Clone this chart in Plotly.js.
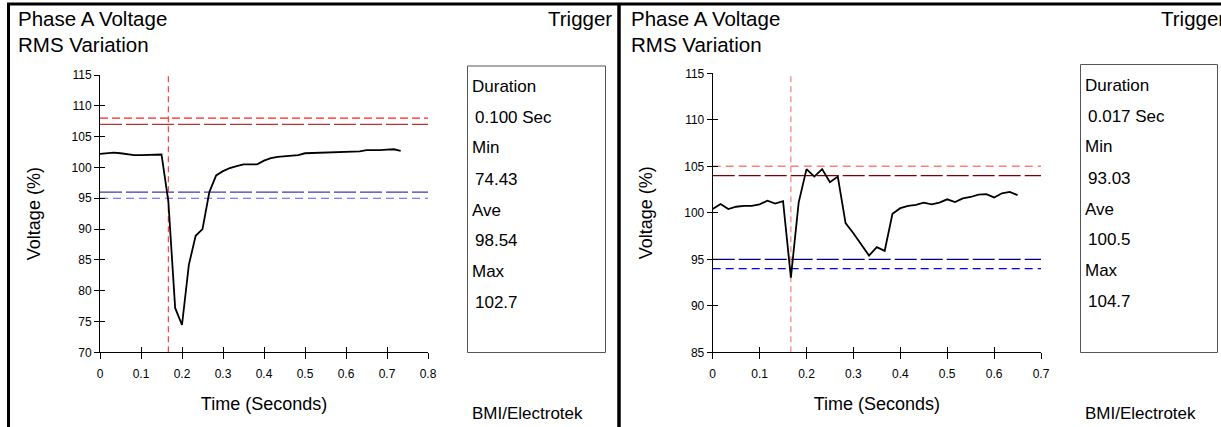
<!DOCTYPE html>
<html>
<head>
<meta charset="utf-8">
<script src="https://cdn.plot.ly/plotly-3.0.1.min.js"></script>
<style>html,body{margin:0;padding:0;background:#fff;}#chart{width:1221px;height:427px;}</style>
</head>
<body>
<div id="chart"></div>
<script>
// ---------- data ----------
var titleLine1 = 'Phase A Voltage';
var titleLine2 = 'RMS Variation';
var triggerLabel = 'Trigger';
var creditLabel = 'BMI/Electrotek';
var statLabels = ['Duration', 'Min', 'Ave', 'Max'];

// left event (one RMS value per 60 Hz cycle)
var leftTime = [0, 0.0167, 0.0333, 0.05, 0.0667, 0.0833, 0.1, 0.1167, 0.1333, 0.15,
  0.1667, 0.1833, 0.2, 0.2167, 0.2333, 0.25, 0.2667, 0.2833, 0.3, 0.3167,
  0.3333, 0.35, 0.3667, 0.3833, 0.4, 0.4167, 0.4333, 0.45, 0.4667, 0.4833,
  0.5, 0.5167, 0.5333, 0.55, 0.5667, 0.5833, 0.6, 0.6167, 0.6333, 0.65,
  0.6667, 0.6833, 0.7, 0.7167, 0.7333];
var leftVoltage = [102.2, 102.3, 102.4, 102.3, 102.1, 102.0, 102.0, 102.05, 102.05, 102.1,
  94.5, 77.2, 74.43, 84.2, 88.9, 90.0, 96.0, 98.7, 99.4, 99.9,
  100.2, 100.5, 100.5, 100.5, 101.1, 101.5, 101.7, 101.8, 101.9, 102.0,
  102.3, 102.35, 102.35, 102.35, 102.4, 102.5, 102.6, 102.6, 102.6, 102.8,
  102.75, 102.8, 102.9, 102.95, 102.7];
var leftLimits = [108, 107, 96, 95];
var leftTrigger = 0.1667;
var leftXRange = [0, 0.8];
var leftYRange = [70, 115];
var leftStats = ['0.100 Sec', '74.43', '98.54', '102.7'];

// right event
var rightTime = [0, 0.0167, 0.0333, 0.05, 0.0667, 0.0833, 0.1, 0.1167, 0.1333, 0.15,
  0.1667, 0.1833, 0.2, 0.2167, 0.2333, 0.25, 0.2667, 0.2833, 0.3, 0.3167,
  0.3333, 0.35, 0.3667, 0.3833, 0.4, 0.4167, 0.4333, 0.45, 0.4667, 0.4833,
  0.5, 0.5167, 0.5333, 0.55, 0.5667, 0.5833, 0.6, 0.6167, 0.6333, 0.65];
var rightVoltage = [100.4, 100.95, 100.4, 100.65, 100.75, 100.75, 100.9, 101.3, 101.0, 101.25,
  93.03, 101.1, 104.7, 103.9, 104.7, 103.3, 103.9, 98.9, 97.8, 96.65,
  95.4, 96.3, 95.9, 99.9, 100.5, 100.75, 100.85, 101.1, 100.9, 101.1,
  101.45, 101.15, 101.55, 101.7, 101.95, 102.0, 101.65, 102.1, 102.25, 101.9];
var rightLimits = [105, 104, 95, 94];
var rightTrigger = 0.1667;
var rightXRange = [0, 0.7];
var rightYRange = [85, 115];
var rightStats = ['0.017 Sec', '93.03', '100.5', '104.7'];

// ---------- styling ----------
var W = 1221, H = 427;
function px(x) { return x / W; }
function py(y) { return 1 - y / H; }
var FONT = 'Liberation Sans, Arial, Helvetica, sans-serif';

var leftLimitStyles = [
  {color: '#ff2020', dash: '8px,4px', width: 1.2},
  {color: '#b83434', dash: '22px,4px', width: 1.2},
  {color: '#3c3ca8', dash: '22px,4px', width: 1.2},
  {color: '#5858ff', dash: '8px,5px', width: 1.2}
];
var rightLimitStyles = [
  {color: '#ff7f7f', dash: '8px,5px', width: 1.6},
  {color: '#800000', dash: '22px,4px', width: 1.2},
  {color: '#000080', dash: '22px,4px', width: 1.2},
  {color: '#0000ff', dash: '8px,5px', width: 1.4}
];

var traces = [];
function addPanel(xa, ya, xaO, yaO, t, v, limits, styles, trig, trigColor, xr, yr) {
  limits.forEach(function (lv, i) {
    traces.push({x: xr, y: [lv, lv], xaxis: xa, yaxis: ya, mode: 'lines',
      line: styles[i], hoverinfo: 'skip', showlegend: false});
  });
  traces.push({x: [trig, trig], y: yr, xaxis: xa, yaxis: ya, mode: 'lines',
    line: {color: trigColor, dash: '6px,4px', width: 1.2}, hoverinfo: 'skip', showlegend: false});
  traces.push({x: t, y: v, xaxis: xa, yaxis: ya, mode: 'lines',
    line: {color: '#000', width: 1.8}, showlegend: false, name: 'Voltage (%)'});
  // helper on overlay axes (carries the inner half of the crossing tick marks)
  traces.push({x: [t[0]], y: [v[0]], xaxis: xaO, yaxis: yaO, mode: 'lines',
    line: {width: 0}, hoverinfo: 'skip', showlegend: false});
}
addPanel('x', 'y', 'x2', 'y2', leftTime, leftVoltage, leftLimits, leftLimitStyles, leftTrigger, '#ff3c3c', leftXRange, leftYRange);
addPanel('x3', 'y3', 'x4', 'y4', rightTime, rightVoltage, rightLimits, rightLimitStyles, rightTrigger, '#f08080', rightXRange, rightYRange);

function mainX(domain, range, anchor) {
  return {domain: domain, range: range, anchor: anchor, dtick: 0.1, tick0: 0,
    ticks: 'outside', ticklen: 6, tickwidth: 1, tickcolor: '#000',
    showline: true, linecolor: '#000', linewidth: 1, showgrid: false, zeroline: false,
    tickfont: {family: FONT, size: 12, color: '#000'}, ticklabelstandoff: 4,
    title: {text: 'Time (Seconds)', font: {family: FONT, size: 18, color: '#000'}, standoff: 17},
    fixedrange: true};
}
function mainY(domain, range, anchor) {
  return {domain: domain, range: range, anchor: anchor, dtick: 5, tick0: 0,
    ticks: 'outside', ticklen: 5, tickwidth: 1, tickcolor: '#000',
    showline: true, linecolor: '#000', linewidth: 1, showgrid: false, zeroline: false,
    tickfont: {family: FONT, size: 12, color: '#000'},
    title: {text: 'Voltage (%)', font: {family: FONT, size: 18, color: '#000'}, standoff: 26},
    fixedrange: true};
}
function overlayAxis(base, anchor, range, dtick, len) {
  return {overlaying: base, anchor: anchor, range: range, dtick: dtick, tick0: 0,
    ticks: 'inside', ticklen: len, tickwidth: 1, tickcolor: '#000',
    showticklabels: false, showline: false, showgrid: false, zeroline: false, fixedrange: true};
}

var shapes = [
  // outer frame
  {type: 'line', xref: 'paper', yref: 'paper', x0: px(7), x1: 1, y0: py(4), y1: py(4), line: {color: '#000', width: 3}},
  {type: 'line', xref: 'paper', yref: 'paper', x0: px(8.5), x1: px(8.5), y0: py(3), y1: 0, line: {color: '#000', width: 3}},
  {type: 'line', xref: 'paper', yref: 'paper', x0: px(619), x1: px(619), y0: py(3), y1: 0, line: {color: '#000', width: 3.5}},
  // statistics boxes
  {type: 'rect', xref: 'paper', yref: 'paper', x0: px(467.5), x1: px(605.5), y0: py(66), y1: py(352.5), line: {color: '#555', width: 1}},
  {type: 'rect', xref: 'paper', yref: 'paper', x0: px(1080.5), x1: px(1217.5), y0: py(64.5), y1: py(352.5), line: {color: '#555', width: 1}}
];

var annotations = [];
function txt(text, x, y, anchor, size) {
  annotations.push({text: text, xref: 'paper', yref: 'paper', x: px(x), y: py(y),
    xanchor: anchor, yanchor: 'middle', showarrow: false,
    font: {family: FONT, size: size, color: '#000'}});
}
function addTexts(dx, dy, stats) {
  txt(titleLine1, 16 + dx, 18, 'left', 20.5);
  txt(titleLine2, 16 + dx, 44, 'left', 20.5);
  txt(triggerLabel, 614 + dx, 18, 'right', 20.5);
  var rowY = [86, 117, 148, 179, 210, 241, 271, 302];
  statLabels.forEach(function (lab, i) {
    txt(lab, 469.5 + dx, rowY[2 * i] + dy, 'left', 17);
    txt(stats[i], 473 + dx, rowY[2 * i + 1] + dy, 'left', 17);
  });
  txt(creditLabel, 469.5 + dx, 413, 'left', 17);
}
addTexts(0, 0, leftStats);
addTexts(613, -1, rightStats);

var layout = {
  width: W, height: H, autosize: false,
  margin: {l: 0, r: 0, t: 0, b: 0, pad: 0},
  paper_bgcolor: '#fff', plot_bgcolor: 'rgba(0,0,0,0)',
  font: {family: FONT, color: '#000'},
  showlegend: false, hovermode: false,
  xaxis: mainX([px(100), px(428)], leftXRange, 'y'),
  yaxis: mainY([py(352.3), py(75)], leftYRange, 'x'),
  xaxis2: overlayAxis('x', 'y2', leftXRange, 0.1, 5),
  yaxis2: overlayAxis('y', 'x2', leftYRange, 5, 5),
  xaxis3: mainX([px(712.7), px(1041)], rightXRange, 'y3'),
  yaxis3: mainY([py(352.3), py(73.3)], rightYRange, 'x3'),
  xaxis4: overlayAxis('x3', 'y4', rightXRange, 0.1, 5),
  yaxis4: overlayAxis('y3', 'x4', rightYRange, 5, 5),
  shapes: shapes,
  annotations: annotations
};

Plotly.newPlot('chart', traces, layout, {staticPlot: true, displayModeBar: false});
</script>
</body>
</html>
